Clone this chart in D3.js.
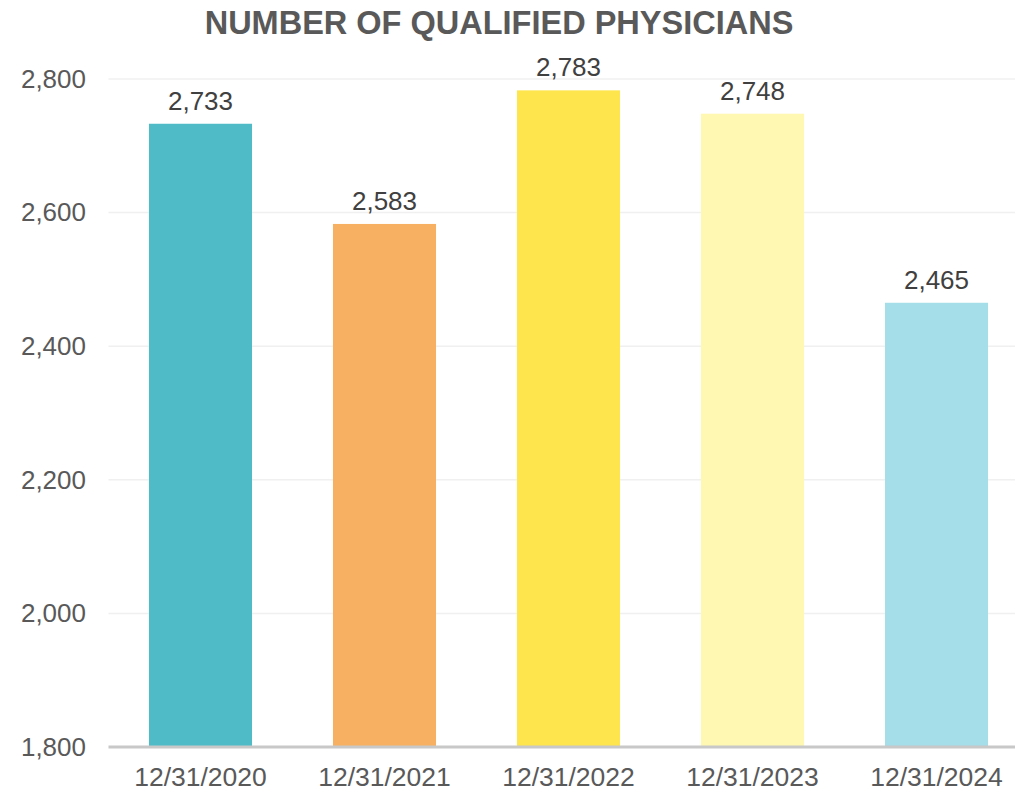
<!DOCTYPE html>
<html>
<head>
<meta charset="utf-8">
<script src="https://cdn.jsdelivr.net/npm/d3@7"></script>
<style>
  body { margin: 0; background: #fff; }
  svg { display: block; font-family: Arial, "Liberation Sans", sans-serif; }
</style>
</head>
<body>
<svg id="chart" width="1015" height="794"></svg>
<script>
var dates = ['12/31/2020', '12/31/2021', '12/31/2022', '12/31/2023', '12/31/2024'];
var physicians = [2733, 2583, 2783, 2748, 2465];
var barColors = ['#4fbbc7', '#f7b061', '#fee54e', '#fef8b2', '#a5dde8'];
var yTicks = [1800, 2000, 2200, 2400, 2600, 2800];

var svg = d3.select('#chart'),
    width = 1015,
    left = 108.5,
    fmt = d3.format(',');

var x = d3.scaleBand()
    .domain(dates)
    .range([left, left + 920])
    .paddingInner(0.44)
    .paddingOuter(0.22);

var y = d3.scaleLinear()
    .domain([1800, 2800])
    .range([747, 79]);

// title
svg.append('text')
    .attr('x', 499)
    .attr('y', 34)
    .attr('text-anchor', 'middle')
    .attr('font-size', 32.5)
    .attr('font-weight', 'bold')
    .attr('fill', '#595959')
    .text('NUMBER OF QUALIFIED PHYSICIANS');

// gridlines
svg.append('g').selectAll('line')
    .data(yTicks.slice(1))
    .join('line')
    .attr('x1', left)
    .attr('x2', width)
    .attr('y1', function(d) { return y(d); })
    .attr('y2', function(d) { return y(d); })
    .attr('stroke', '#f0f0f0')
    .attr('stroke-width', 1.5);

// y axis labels
var yAxis = d3.axisLeft(y).tickValues(yTicks).tickFormat(fmt).tickSize(0).tickPadding(0);
svg.append('g')
    .attr('transform', 'translate(86,0)')
    .call(yAxis)
    .call(function(g) { g.select('.domain').remove(); })
    .selectAll('text')
    .attr('font-size', 26)
    .attr('font-family', 'Arial, "Liberation Sans", sans-serif')
    .attr('fill', '#595959');

// bars
svg.append('g').selectAll('rect')
    .data(physicians)
    .join('rect')
    .attr('x', function(d, i) { return x(dates[i]); })
    .attr('y', function(d) { return y(d); })
    .attr('width', x.bandwidth())
    .attr('height', function(d) { return y(1800) - y(d); })
    .attr('fill', function(d, i) { return barColors[i]; });

// value labels
svg.append('g').selectAll('text')
    .data(physicians)
    .join('text')
    .attr('x', function(d, i) { return x(dates[i]) + x.bandwidth() / 2; })
    .attr('y', function(d) { return y(d) - 14; })
    .attr('text-anchor', 'middle')
    .attr('font-size', 26)
    .attr('fill', '#404040')
    .text(function(d) { return fmt(d); });

// x axis line + labels
svg.append('line')
    .attr('x1', left)
    .attr('x2', width)
    .attr('y1', y(1800))
    .attr('y2', y(1800))
    .attr('stroke', '#c8c8c8')
    .attr('stroke-width', 3);

var xAxis = d3.axisBottom(x).tickSize(0).tickPadding(0);
svg.append('g')
    .attr('transform', 'translate(0,' + (y(1800) + 20) + ')')
    .call(xAxis)
    .call(function(g) { g.select('.domain').remove(); })
    .selectAll('text')
    .attr('dy', '0.71em')
    .attr('font-size', 26.5)
    .attr('font-family', 'Arial, "Liberation Sans", sans-serif')
    .attr('fill', '#595959');
</script>
</body>
</html>
